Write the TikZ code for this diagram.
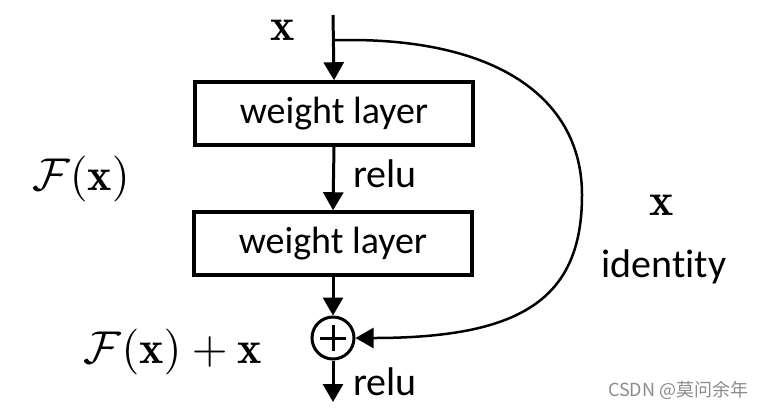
\documentclass[tikz,border=0pt]{standalone}
\usepackage{fontspec}
\newfontfamily\carl[Ligatures=NoCommon]{Carlito}
\newfontfamily\cjkf{Noto Sans CJK SC}
\usetikzlibrary{arrows.meta}
\begin{document}
\begin{tikzpicture}[x=1pt,y=-1pt,
  layer/.style={draw,line width=3.5pt,minimum width=278pt,minimum height=63pt,inner sep=0pt,font=\carl\fontsize{38}{40}\selectfont},
  lbl/.style={font=\carl\fontsize{40}{42}\selectfont,inner sep=0pt},
  mlbl/.style={font=\fontsize{10}{12}\selectfont,inner sep=0pt,scale=4.6},
  flow/.style={line width=3pt,-{Triangle[width=20pt,length=18pt]}},
  skip/.style={line width=2.5pt,-{Triangle[width=20pt,length=18pt]}}]
\useasboundingbox[fill=white] (0,0) rectangle (775,408);
\coordinate (in) at (333,15);
\coordinate (br) at (333,40);
\coordinate (brr) at (350,40);
\coordinate (far) at (582,195);
\coordinate (out) at (333,402);
\node[layer] (w1) at (334,113.5) {weight layer};
\node[layer] (w2) at (333,243.5) {weight layer};
\node[circle,draw,line width=3pt,minimum size=42pt,inner sep=0pt] (sum) at (333,338) {};
\draw[line width=3pt] ([xshift=-13pt]sum.center) -- ([xshift=13pt]sum.center);
\draw[line width=3pt] ([yshift=-13pt]sum.center) -- ([yshift=13pt]sum.center);
% flow
\draw[flow] (in) -- (w1.north);
\draw[flow] (w1.south) -- (w2.north);
\draw[flow] (w2.south) -- (sum.north);
\draw[flow] (sum.south) -- (out);
% skip
\draw[skip] (br) -- (brr) .. controls (500,40) and (582,100) .. (far)
  .. controls (582,300) and (520,338) .. (sum.east);
% labels
\node[mlbl] (xin) at (283,30) {$\mathbf{x}$};
\node[mlbl] (fx) at (81,179) {$\mathcal{F}(\mathbf{x})$};
\node[mlbl] (fxx) at (173,352) {$\mathcal{F}(\mathbf{x})+\mathbf{x}$};
\node[mlbl] (xid) at (662,205) {$\mathbf{x}$};
\node[lbl,anchor=base] (ident) at (664,277) {identity};
\node[lbl,anchor=base west] (relu1) at (353,187) {relu};
\node[lbl,anchor=base west] (relu2) at (353,395) {relu};
\node[font=\cjkf\fontsize{18}{20}\selectfont,text=black!45,inner sep=0pt,anchor=base west] (wm) at (608,396) {CSDN @莫问余年};
\end{tikzpicture}
\end{document}
